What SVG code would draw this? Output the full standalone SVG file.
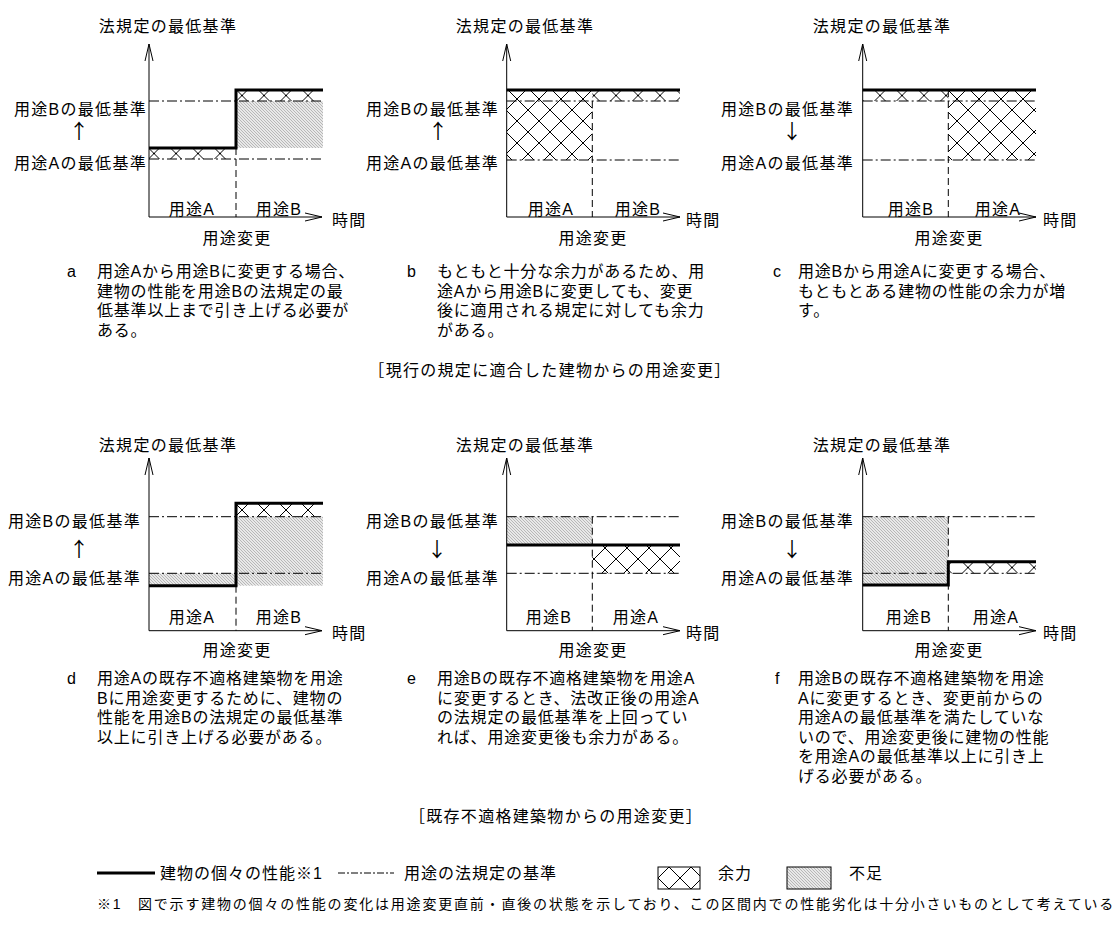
<svg xmlns="http://www.w3.org/2000/svg" width="1115" height="927" viewBox="0 0 1115 927">
<style>
text{font-family:"Liberation Sans","Noto Sans CJK JP",sans-serif;font-size:16px;fill:#000;letter-spacing:1.3px}
.ax{stroke:#000;stroke-width:1;fill:none}
.th{stroke:#000;stroke-width:3;fill:none}
.dd{stroke:#000;stroke-width:1;stroke-dasharray:10 3 2 3;fill:none}
.ds{stroke:#000;stroke-width:1;stroke-dasharray:7 4;fill:none}
.m{text-anchor:middle}
.e{text-anchor:end}
.d{letter-spacing:0.8px}
.lg{letter-spacing:1px}
.fn{font-size:14px;letter-spacing:1.8px}
.arr{font-family:"Noto Sans CJK JP",sans-serif;font-size:20px;letter-spacing:0}
</style>
<defs>
<pattern id="xh" patternUnits="userSpaceOnUse" width="22" height="22" x="0" y="0"><path d="M-2,-2 L24,24 M24,-2 L-2,24" stroke="#000" stroke-width="1"/></pattern>
<pattern id="xhA" patternUnits="userSpaceOnUse" width="22" height="22" x="0" y="153.5"><path d="M-2,-2 L24,24 M24,-2 L-2,24" stroke="#000" stroke-width="1"/></pattern>
<pattern id="xhB" patternUnits="userSpaceOnUse" width="22" height="22" x="0" y="95.5"><path d="M-2,-2 L24,24 M24,-2 L-2,24" stroke="#000" stroke-width="1"/></pattern>
<pattern id="xhD" patternUnits="userSpaceOnUse" width="22" height="22" x="0" y="510"><path d="M-2,-2 L24,24 M24,-2 L-2,24" stroke="#000" stroke-width="1"/></pattern>
<pattern id="xhE" patternUnits="userSpaceOnUse" width="22" height="22" x="0" y="559"><path d="M-2,-2 L24,24 M24,-2 L-2,24" stroke="#000" stroke-width="1"/></pattern>
<pattern id="xhF" patternUnits="userSpaceOnUse" width="22" height="22" x="0" y="567.5"><path d="M-2,-2 L24,24 M24,-2 L-2,24" stroke="#000" stroke-width="1"/></pattern>
<pattern id="xhL" patternUnits="userSpaceOnUse" width="22" height="22" x="658" y="878"><path d="M-2,-2 L24,24 M24,-2 L-2,24" stroke="#000" stroke-width="1"/></pattern>
<pattern id="gh" patternUnits="userSpaceOnUse" width="3" height="3"><rect width="3" height="3" fill="#e8e8e8"/><path d="M-1,-1 L4,4" stroke="#a2a2a2" stroke-width="0.7"/></pattern>
</defs>

<g id="panel-a">
<rect x="236" y="101" width="87" height="47" fill="url(#gh)"/>
<rect x="149" y="148" width="87" height="11" fill="url(#xhA)"/>
<rect x="236" y="90" width="87" height="11" fill="url(#xhB)"/>
<line class="dd" x1="149" y1="101" x2="323" y2="101"/>
<line class="dd" x1="149" y1="159" x2="323" y2="159"/>
<line class="ds" x1="236" y1="148" x2="236" y2="217"/>
<path class="th" d="M149,148 H236 V90 H323"/>
<path class="ax" d="M149,44 V217 H322"/>
<path class="ax" d="M145,61 L149,44 L153,61"/>
<path class="ax" d="M305,213 L322,217 L305,221"/>
<text class="m" x="168" y="32">法規定の最低基準</text>
<text class="e" x="147" y="115">用途Bの最低基準</text>
<text class="m arr" x="79" y="139">↑</text>
<text class="e" x="147" y="169">用途Aの最低基準</text>
<text class="m" x="192" y="215">用途A</text>
<text class="m" x="279" y="215">用途B</text>
<text x="332" y="226">時間</text>
<text class="m" x="237" y="244">用途変更</text>
</g>

<g id="panel-b">
<rect x="506.7" y="90" width="85.6" height="70" fill="url(#xh)"/>
<rect x="592.3" y="90" width="87.7" height="11" fill="url(#xhB)"/>
<line class="dd" x1="506.7" y1="101" x2="680" y2="101"/>
<line class="dd" x1="506.7" y1="160" x2="680" y2="160"/>
<line class="ds" x1="592.3" y1="101" x2="592.3" y2="217"/>
<path class="th" d="M506.7,90 H680"/>
<path class="ax" d="M506.7,44 V217 H680"/>
<path class="ax" d="M502.7,61 L506.7,44 L510.7,61"/>
<path class="ax" d="M663,213 L680,217 L663,221"/>
<text class="m" x="525" y="32">法規定の最低基準</text>
<text class="e" x="499" y="115">用途Bの最低基準</text>
<text class="m arr" x="438" y="139">↑</text>
<text class="e" x="499" y="169">用途Aの最低基準</text>
<text class="m" x="551" y="215">用途A</text>
<text class="m" x="638" y="215">用途B</text>
<text x="686" y="226">時間</text>
<text class="m" x="593" y="244">用途変更</text>
</g>

<g id="panel-c">
<rect x="862.7" y="90" width="85.6" height="11" fill="url(#xhB)"/>
<rect x="948.3" y="90" width="87.7" height="70" fill="url(#xh)"/>
<line class="dd" x1="862.7" y1="101" x2="1036" y2="101"/>
<line class="dd" x1="862.7" y1="160" x2="1036" y2="160"/>
<line class="ds" x1="948.3" y1="90" x2="948.3" y2="217"/>
<path class="th" d="M862.7,90 H1036"/>
<path class="ax" d="M862.7,44 V217 H1036"/>
<path class="ax" d="M858.7,61 L862.7,44 L866.7,61"/>
<path class="ax" d="M1019,213 L1036,217 L1019,221"/>
<text class="m" x="882" y="32">法規定の最低基準</text>
<text class="e" x="854" y="115">用途Bの最低基準</text>
<text class="m arr" x="792" y="139">↓</text>
<text class="e" x="854" y="169">用途Aの最低基準</text>
<text class="m" x="911" y="215">用途B</text>
<text class="m" x="998" y="215">用途A</text>
<text x="1043" y="226">時間</text>
<text class="m" x="949" y="244">用途変更</text>
</g>

<g id="desc-row1">
<text x="67" y="277">a</text>
<text class="d" x="97" y="277">用途Aから用途Bに変更する場合、<tspan x="97" dy="19.6">建物の性能を用途Bの法規定の最</tspan><tspan x="97" dy="19.6">低基準以上まで引き上げる必要が</tspan><tspan x="97" dy="19.6">ある。</tspan></text>
<text x="407" y="277">b</text>
<text class="d" x="437" y="277">もともと十分な余力があるため、用<tspan x="437" dy="19.6">途Aから用途Bに変更しても、変更</tspan><tspan x="437" dy="19.6">後に適用される規定に対しても余力</tspan><tspan x="437" dy="19.6">がある。</tspan></text>
<text x="773" y="277">c</text>
<text class="d" x="798" y="277">用途Bから用途Aに変更する場合、<tspan x="798" dy="19.6">もともとある建物の性能の余力が増</tspan><tspan x="798" dy="19.6">す。</tspan></text>
<text class="m" x="550" y="376">［現行の規定に適合した建物からの用途変更］</text>
</g>

<g id="panel-d">
<rect x="149" y="573.3" width="87" height="12.4" fill="url(#gh)"/>
<rect x="236" y="516.7" width="87" height="69" fill="url(#gh)"/>
<rect x="236" y="503.3" width="87" height="13.4" fill="url(#xhD)"/>
<line class="dd" x1="149" y1="516.7" x2="323" y2="516.7"/>
<line class="dd" x1="149" y1="573.3" x2="323" y2="573.3"/>
<line class="ds" x1="236" y1="585.7" x2="236" y2="630.7"/>
<path class="th" d="M149,585.7 H236 V503.3 H323"/>
<path class="ax" d="M149,458 V630.7 H322"/>
<path class="ax" d="M145,475 L149,458 L153,475"/>
<path class="ax" d="M305,626.7 L322,630.7 L305,634.7"/>
<text class="m" x="168" y="451">法規定の最低基準</text>
<text class="e" x="141" y="527">用途Bの最低基準</text>
<text class="m arr" x="79" y="557">↑</text>
<text class="e" x="141" y="584">用途Aの最低基準</text>
<text class="m" x="192" y="623">用途A</text>
<text class="m" x="279" y="623">用途B</text>
<text x="332" y="639">時間</text>
<text class="m" x="237" y="656">用途変更</text>
</g>

<g id="panel-e">
<rect x="506.7" y="516.7" width="85.6" height="28.3" fill="url(#gh)"/>
<rect x="592.3" y="545" width="87.7" height="28.3" fill="url(#xhE)"/>
<line class="dd" x1="506.7" y1="516.7" x2="680" y2="516.7"/>
<line class="dd" x1="506.7" y1="573.3" x2="680" y2="573.3"/>
<line class="ds" x1="592.3" y1="516.7" x2="592.3" y2="630.7"/>
<path class="th" d="M506.7,545 H680"/>
<path class="ax" d="M506.7,458 V630.7 H680"/>
<path class="ax" d="M502.7,475 L506.7,458 L510.7,475"/>
<path class="ax" d="M663,626.7 L680,630.7 L663,634.7"/>
<text class="m" x="525" y="451">法規定の最低基準</text>
<text class="e" x="499" y="527">用途Bの最低基準</text>
<text class="m arr" x="437" y="557">↓</text>
<text class="e" x="499" y="584">用途Aの最低基準</text>
<text class="m" x="549" y="623">用途B</text>
<text class="m" x="636" y="623">用途A</text>
<text x="686" y="639">時間</text>
<text class="m" x="593" y="656">用途変更</text>
</g>

<g id="panel-f">
<rect x="862.7" y="516.7" width="85.6" height="68.3" fill="url(#gh)"/>
<rect x="948.3" y="561.7" width="87.7" height="11.6" fill="url(#xhF)"/>
<line class="dd" x1="862.7" y1="516.7" x2="1036" y2="516.7"/>
<line class="dd" x1="862.7" y1="573.3" x2="1036" y2="573.3"/>
<line class="ds" x1="948.3" y1="516.7" x2="948.3" y2="630.7"/>
<path class="th" d="M862.7,585 H948.3 V561.7 H1036"/>
<path class="ax" d="M862.7,458 V630.7 H1036"/>
<path class="ax" d="M858.7,475 L862.7,458 L866.7,475"/>
<path class="ax" d="M1019,626.7 L1036,630.7 L1019,634.7"/>
<text class="m" x="882" y="451">法規定の最低基準</text>
<text class="e" x="854" y="527">用途Bの最低基準</text>
<text class="m arr" x="792" y="557">↓</text>
<text class="e" x="854" y="584">用途Aの最低基準</text>
<text class="m" x="909" y="623">用途B</text>
<text class="m" x="996" y="623">用途A</text>
<text x="1043" y="639">時間</text>
<text class="m" x="949" y="656">用途変更</text>
</g>

<g id="desc-row2">
<text x="67" y="684">d</text>
<text class="d" x="97" y="684">用途Aの既存不適格建築物を用途<tspan x="97" dy="19.6">Bに用途変更するために、建物の</tspan><tspan x="97" dy="19.6">性能を用途Bの法規定の最低基準</tspan><tspan x="97" dy="19.6">以上に引き上げる必要がある。</tspan></text>
<text x="407" y="684">e</text>
<text class="d" x="437" y="684">用途Bの既存不適格建築物を用途A<tspan x="437" dy="19.6">に変更するとき、法改正後の用途A</tspan><tspan x="437" dy="19.6">の法規定の最低基準を上回ってい</tspan><tspan x="437" dy="19.6">れば、用途変更後も余力がある。</tspan></text>
<text x="775" y="684">f</text>
<text class="d" x="798" y="684">用途Bの既存不適格建築物を用途<tspan x="798" dy="19.6">Aに変更するとき、変更前からの</tspan><tspan x="798" dy="19.6">用途Aの最低基準を満たしていな</tspan><tspan x="798" dy="19.6">いので、用途変更後に建物の性能</tspan><tspan x="798" dy="19.6">を用途Aの最低基準以上に引き上</tspan><tspan x="798" dy="19.6">げる必要がある。</tspan></text>
<text class="m" x="556" y="822">［既存不適格建築物からの用途変更］</text>
</g>

<g id="legend">
<line class="th" x1="97" y1="873" x2="155" y2="873"/>
<text class="lg" x="160" y="879">建物の個々の性能※1</text>
<line class="ax" x1="338" y1="873" x2="394" y2="873" stroke-dasharray="7 2 2 2"/>
<text class="lg" x="404" y="879">用途の法規定の基準</text>
<rect x="658" y="867" width="42" height="22" fill="url(#xhL)" stroke="#000" stroke-width="1"/>
<text class="lg" x="718" y="879">余力</text>
<rect x="787" y="867" width="44" height="22" fill="url(#gh)" stroke="#000" stroke-width="1"/>
<text class="lg" x="849" y="879">不足</text>
</g>

<g id="footnote">
<text class="fn" x="97" y="909">※1</text>
<text class="fn" x="138" y="909">図で示す建物の個々の性能の変化は用途変更直前・直後の状態を示しており、この区間内での性能劣化は十分小さいものとして考えている</text>
</g>
</svg>
